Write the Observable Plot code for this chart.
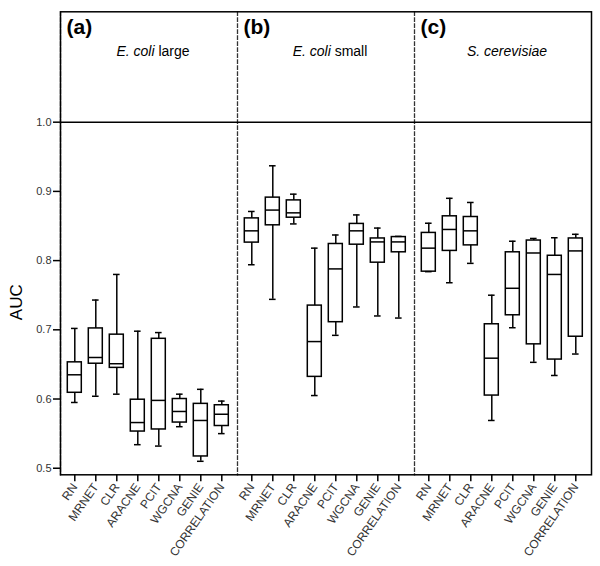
<!DOCTYPE html>
<html>
<head>
<meta charset="utf-8">
<script src="https://cdn.jsdelivr.net/npm/d3@7"></script>
<script src="https://cdn.jsdelivr.net/npm/@observablehq/plot@0.6"></script>
<style>
  html, body { margin: 0; padding: 0; background: #fff; }
  #chart { width: 600px; height: 566px; }
</style>
</head>
<body>
<div id="chart"></div>
<script>
// ---- categories / labels ----
const panels = ["a", "b", "c"];
const panelLabels = ["(a)", "(b)", "(c)"];
const speciesItalic = ["E. coli", "E. coli", "S. cerevisiae"];
const speciesRest = [" large", " small", ""];
const methods = ["RN", "MRNET", "CLR", "ARACNE", "PCIT", "WGCNA", "GENIE", "CORRELATION"];
const yTicks = [0.5, 0.6, 0.7, 0.8, 0.9, 1.0];
const yDomain = [0.4905, 1.1595];

// ---- box statistics ----
// (a) E. coli large
const minA = [0.595, 0.604, 0.607, 0.534, 0.532, 0.560, 0.510, 0.550];
const q1A  = [0.609, 0.651, 0.645, 0.553, 0.556, 0.566, 0.517, 0.561];
const medA = [0.635, 0.660, 0.651, 0.566, 0.598, 0.582, 0.569, 0.578];
const q3A  = [0.653, 0.702, 0.693, 0.599, 0.687, 0.600, 0.593, 0.591];
const maxA = [0.702, 0.743, 0.780, 0.698, 0.696, 0.607, 0.614, 0.597];
// (b) E. coli small
const minB = [0.794, 0.744, 0.853, 0.605, 0.692, 0.733, 0.720, 0.717];
const q1B  = [0.826, 0.851, 0.862, 0.632, 0.711, 0.823, 0.797, 0.812];
const medB = [0.843, 0.873, 0.869, 0.683, 0.788, 0.843, 0.827, 0.827];
const q3B  = [0.861, 0.891, 0.887, 0.735, 0.824, 0.853, 0.832, 0.834];
const maxB = [0.871, 0.937, 0.896, 0.818, 0.837, 0.866, 0.847, 0.835];
// (c) S. cerevisiae
const minC = [0.784, 0.768, 0.796, 0.569, 0.703, 0.653, 0.634, 0.665];
const q1C  = [0.784, 0.814, 0.822, 0.605, 0.721, 0.679, 0.657, 0.690];
const medC = [0.818, 0.845, 0.843, 0.659, 0.760, 0.811, 0.780, 0.814];
const q3C  = [0.840, 0.864, 0.863, 0.708, 0.812, 0.829, 0.807, 0.832];
const maxC = [0.854, 0.890, 0.884, 0.750, 0.828, 0.832, 0.833, 0.838];

// ---- build table ----
const statSets = [
  [minA, q1A, medA, q3A, maxA],
  [minB, q1B, medB, q3B, maxB],
  [minC, q1C, medC, q3C, maxC]
];
const boxes = [];
statSets.forEach((s, p) => {
  methods.forEach((m, i) => {
    boxes.push({panel: panels[p], method: m, min: s[0][i], q1: s[1][i], med: s[2][i], q3: s[3][i], max: s[4][i]});
  });
});
const fullTitles = speciesItalic.map((s, i) => s + speciesRest[i]);

const font = "'Liberation Sans', Arial, Helvetica, sans-serif";
const lw = 1.5;

const chart = Plot.plot({
  width: 600,
  height: 566,
  marginLeft: 59.7,
  marginRight: 9.3,
  marginTop: 11.3,
  marginBottom: 91.7,
  style: {fontFamily: font, fontSize: "11px", color: "#000", background: "#fff"},
  fx: {domain: panels, padding: 0, axis: null},
  x: {domain: methods, padding: 0.31, tickRotate: -55, tickSize: 7, tickPadding: 3, label: null},
  y: {domain: yDomain, ticks: yTicks, tickFormat: ".1f", tickSize: 7, tickPadding: 2, label: null},
  marks: [
    // dashed panel dividers (left edge of each facet; outer edge covered by solid frame)
    Plot.frame({anchor: "left", stroke: "#333", strokeWidth: 1.3, strokeDasharray: "3.5,2.5"}),
    // solid outer frame
    Plot.frame({facet: "super", stroke: "#000", strokeWidth: lw}),
    Plot.ruleY([yTicks[yTicks.length - 1]], {stroke: "#000", strokeWidth: lw}),
    // whiskers
    Plot.ruleX(boxes, {fx: "panel", x: "method", y1: "min", y2: "max", stroke: "#000", strokeWidth: lw}),
    // boxes
    Plot.barY(boxes, {fx: "panel", x: "method", y1: "q1", y2: "q3", fill: "#fff", stroke: "#000", strokeWidth: lw}),
    // median
    Plot.tickY(boxes, {fx: "panel", x: "method", y: "med", stroke: "#000", strokeWidth: lw}),
    // caps
    Plot.tickY(boxes, {fx: "panel", x: "method", y: "max", stroke: "#000", strokeWidth: lw, insetLeft: 3.7, insetRight: 3.7}),
    Plot.tickY(boxes, {fx: "panel", x: "method", y: "min", stroke: "#000", strokeWidth: lw, insetLeft: 3.7, insetRight: 3.7}),
    // panel labels
    Plot.text(panelLabels, {fx: panels, frameAnchor: "top-left", lineAnchor: "middle", dx: 6, dy: 15.9,
      fontSize: 21, fontWeight: "bold", fill: "#000"}),
    Plot.text(fullTitles, {fx: panels, frameAnchor: "top", lineAnchor: "middle", textAnchor: "middle", dx: 4, dy: 39.5,
      fontSize: 14, fill: "#000"}),
    // y label
    Plot.text(["AUC"], {fx: [panels[0]], frameAnchor: "left", y: [(yTicks[0] + yTicks[yTicks.length - 1]) / 2],
      dx: -43.7, dy: 7, rotate: -90, fontSize: 17, fill: "#000", textAnchor: "middle", lineAnchor: "middle"})
  ]
});

document.getElementById("chart").appendChild(chart);

// italic species names via tspans
const svgNode = chart.tagName.toLowerCase() === "svg" ? chart : chart.querySelector("svg");
const svg = d3.select(svgNode);
svg.selectAll("text").each(function () {
  const t = this.textContent;
  const j = fullTitles.indexOf(t);
  if (j < 0) return;
  const sel = d3.select(this);
  sel.selectAll("*").remove();
  sel.text(null);
  sel.append("tspan").attr("font-style", "italic").text(speciesItalic[j]);
  if (speciesRest[j]) sel.append("tspan").text("\u00a0" + speciesRest[j].trim());
});
svg.selectAll('g[aria-label="x-axis tick label"], g[aria-label="y-axis tick label"]').attr("fill", "#333");
svg.selectAll('g[aria-label="x-axis tick label"]').attr("font-size", 12);
svg.selectAll('g[aria-label="x-axis tick"], g[aria-label="y-axis tick"]').attr("stroke-width", lw);
</script>
</body>
</html>
